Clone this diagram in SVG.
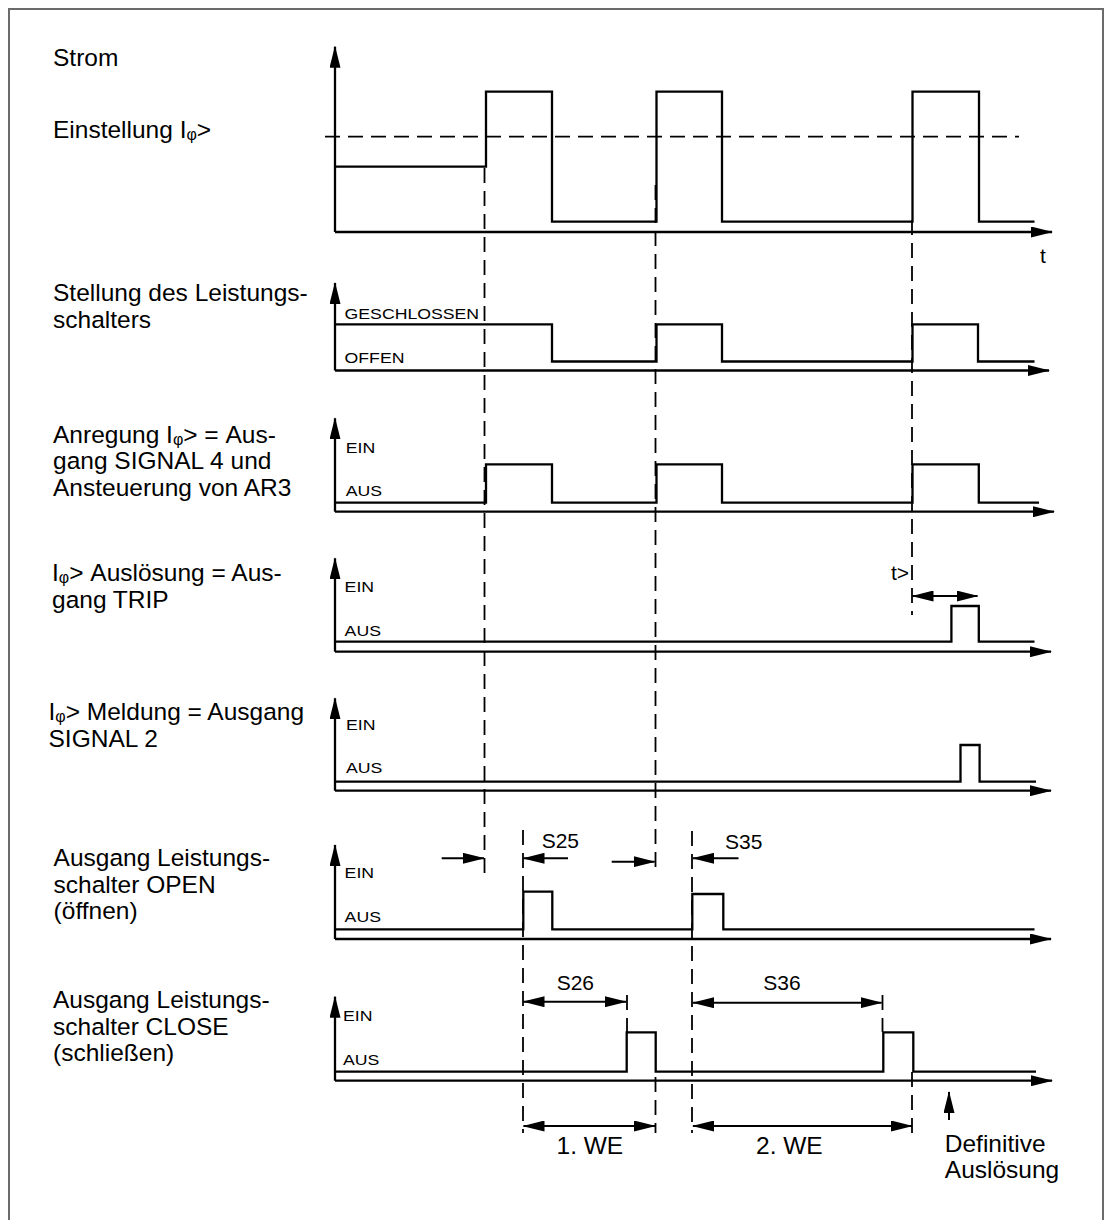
<svg xmlns="http://www.w3.org/2000/svg" width="1112" height="1220" viewBox="0 0 1112 1220">
<style>
.lbl{font-family:"Liberation Sans",Arial,sans-serif;font-size:24.5px;fill:#000}
.sm{font-family:"Liberation Sans",Arial,sans-serif;font-size:15.5px;fill:#000}
.md{font-family:"Liberation Sans",Arial,sans-serif;font-size:21px;fill:#000}
.ln{fill:none;stroke:#000;stroke-width:2.3}
.ax{fill:none;stroke:#000;stroke-width:2.3;marker-end:url(#ah)}
.dim{fill:none;stroke:#000;stroke-width:2;marker-end:url(#ah)}
.dim2{fill:none;stroke:#000;stroke-width:2;marker-end:url(#ah);marker-start:url(#ah)}
.dash{fill:none;stroke:#000;stroke-width:1.8;stroke-dasharray:15 8}
</style>
<defs>
<marker id="ah" viewBox="0 0 22 11" refX="21" refY="5.5" markerWidth="22" markerHeight="11" markerUnits="userSpaceOnUse" orient="auto-start-reverse"><path d="M0,0 L22,5.5 L0,11 Z" fill="#000"/></marker>
</defs>
<rect x="9" y="9" width="1094" height="1230" fill="none" stroke="#6b6b6b" stroke-width="2"/>

<g id="strom">
<text class="lbl" x="53" y="66">Strom</text>
<text class="lbl" x="53" y="137.7">Einstellung I<tspan font-size="16" dy="2">φ</tspan><tspan dy="-2">&gt;</tspan></text>
<line class="ax" x1="335" y1="232" x2="335" y2="46.7"/>
<line class="ax" x1="335" y1="232" x2="1052" y2="232"/>
<polyline class="ln" points="335,166.7 486,166.7 486,91.7 552,91.7 552,221.7 656.5,221.7 656.5,91.7 722,91.7 722,221.7 912.5,221.7 912.5,91.7 979,91.7 979,221.7 1034.5,221.7"/>
<text class="md" x="1040" y="263" font-size="20">t</text>
</g>

<g id="schalter">
<text class="lbl" x="53" y="300.7">Stellung des Leistungs-</text>
<text class="lbl" x="53" y="327.5">schalters</text>
<line class="ax" x1="335" y1="370.5" x2="335" y2="283"/>
<line class="ax" x1="335" y1="370.5" x2="1049" y2="370.5"/>
<polyline class="ln" points="335,324.3 552,324.3 552,361.5 656.5,361.5 656.5,324.3 722,324.3 722,361.5 912.5,361.5 912.5,324.3 978,324.3 978,361.5 1034.5,361.5"/>
<text class="sm" transform="translate(344.6 319.3) scale(1.14 1)">GESCHLOSSEN</text>
<text class="sm" transform="translate(344.6 362.7) scale(1.14 1)">OFFEN</text>
</g>

<g id="anregung">
<text class="lbl" x="53" y="442.7">Anregung I<tspan font-size="16" dy="2">φ</tspan><tspan dy="-2">&gt; = Aus-</tspan></text>
<text class="lbl" x="53" y="469.3">gang SIGNAL 4 und</text>
<text class="lbl" x="53" y="496">Ansteuerung von AR3</text>
<line class="ax" x1="335" y1="511.7" x2="335" y2="418.3"/>
<line class="ax" x1="335" y1="511.7" x2="1054" y2="511.7"/>
<polyline class="ln" points="335,502.7 486,502.7 486,464.3 552,464.3 552,502.7 656.5,502.7 656.5,464.3 722,464.3 722,502.7 912.5,502.7 912.5,464.3 978.8,464.3 978.8,502.7 1039,502.7"/>
<text class="sm" transform="translate(345.7 452.7) scale(1.14 1)">EIN</text>
<text class="sm" transform="translate(345.7 496) scale(1.14 1)">AUS</text>
</g>

<g id="trip">
<text class="lbl" x="52" y="581">I<tspan font-size="16" dy="2">φ</tspan><tspan dy="-2">&gt; Auslösung = Aus-</tspan></text>
<text class="lbl" x="52" y="607.5">gang TRIP</text>
<line class="ax" x1="335" y1="651.7" x2="335" y2="558.3"/>
<line class="ax" x1="335" y1="651.7" x2="1051" y2="651.7"/>
<polyline class="ln" points="335,641.7 951.4,641.7 951.4,606 978.8,606 978.8,641.7 1034.5,641.7"/>
<text class="sm" transform="translate(344.6 591.7) scale(1.14 1)">EIN</text>
<text class="sm" transform="translate(344.6 635.7) scale(1.14 1)">AUS</text>
<text class="md" x="891" y="580" font-size="19">t&gt;</text>
</g>

<g id="meldung">
<text class="lbl" x="48.5" y="720">I<tspan font-size="16" dy="2">φ</tspan><tspan dy="-2">&gt; Meldung = Ausgang</tspan></text>
<text class="lbl" x="48.5" y="746.7">SIGNAL 2</text>
<line class="ax" x1="335" y1="790.7" x2="335" y2="698.3"/>
<line class="ax" x1="335" y1="790.7" x2="1051" y2="790.7"/>
<polyline class="ln" points="335,781.7 960.5,781.7 960.5,745 979.6,745 979.6,781.7 1036,781.7"/>
<text class="sm" transform="translate(346 730) scale(1.14 1)">EIN</text>
<text class="sm" transform="translate(346 773.3) scale(1.14 1)">AUS</text>
</g>

<g id="open">
<text class="lbl" x="53.6" y="866">Ausgang Leistungs-</text>
<text class="lbl" x="53.6" y="892.5">schalter OPEN</text>
<text class="lbl" x="53.6" y="919">(öffnen)</text>
<line class="ax" x1="335" y1="939" x2="335" y2="845"/>
<line class="ax" x1="335" y1="939" x2="1051" y2="939"/>
<polyline class="ln" points="335,929.3 523.3,929.3 523.3,891.7 552.3,891.7 552.3,929.3 692.3,929.3 692.3,894 723.3,894 723.3,929.3 1034.5,929.3"/>
<text class="sm" transform="translate(344.6 878.3) scale(1.14 1)">EIN</text>
<text class="sm" transform="translate(344.6 921.7) scale(1.14 1)">AUS</text>
</g>

<g id="close">
<text class="lbl" x="53" y="1008">Ausgang Leistungs-</text>
<text class="lbl" x="53" y="1034.5">schalter CLOSE</text>
<text class="lbl" x="53" y="1061">(schließen)</text>
<line class="ax" x1="335" y1="1080.7" x2="335" y2="996.7"/>
<line class="ax" x1="335" y1="1080.7" x2="1052" y2="1080.7"/>
<polyline class="ln" points="335,1071.7 626.7,1071.7 626.7,1032.3 655.7,1032.3 655.7,1071.7 883.3,1071.7 883.3,1032.3 913.3,1032.3 913.3,1071.7 1036,1071.7"/>
<text class="sm" transform="translate(343 1021) scale(1.14 1)">EIN</text>
<text class="sm" transform="translate(343 1065) scale(1.14 1)">AUS</text>
</g>

<g id="annotations">
<text class="md" x="541.7" y="848.3">S25</text>
<text class="md" x="725" y="849">S35</text>
<text class="md" x="556.7" y="990">S26</text>
<text class="md" x="763.3" y="990">S36</text>
<text class="lbl" x="556.5" y="1154.3">1. WE</text>
<text class="lbl" x="756" y="1154.3">2. WE</text>
<text class="lbl" x="944.8" y="1151.7" font-size="24">Definitive</text>
<text class="lbl" x="944.8" y="1178" font-size="24">Auslösung</text>
</g>

<g id="connectors">
<line class="dash" x1="325" y1="136.7" x2="1019" y2="136.7"/>
<line class="dash" x1="484.5" y1="168" x2="484.5" y2="873"/>
<line class="dash" x1="655.5" y1="185" x2="655.5" y2="867"/>
<line class="dash" x1="912" y1="220" x2="912" y2="615"/>
<line class="dash" x1="523" y1="830" x2="523" y2="1133"/>
<line class="dash" x1="692" y1="831" x2="692" y2="1133"/>
<line class="dash" x1="655.5" y1="1077" x2="655.5" y2="1133"/>
<line class="dash" x1="627" y1="995" x2="627" y2="1032"/>
<line class="dash" x1="882.5" y1="995" x2="882.5" y2="1032"/>
<line class="dash" x1="912" y1="1072" x2="912" y2="1133"/>
<line class="dim" x1="441.7" y1="858.3" x2="484" y2="858.3"/>
<line class="dim" x1="568" y1="858.3" x2="523.5" y2="858.3"/>
<line class="dim" x1="611.7" y1="861.7" x2="654.5" y2="861.7"/>
<line class="dim" x1="738.5" y1="858.3" x2="693" y2="858.3"/>
<line class="dim2" x1="523.5" y1="1001.7" x2="626" y2="1001.7"/>
<line class="dim2" x1="693" y1="1002.7" x2="881.5" y2="1002.7"/>
<line class="dim2" x1="523.5" y1="1126" x2="655" y2="1126"/>
<line class="dim2" x1="693" y1="1126" x2="912" y2="1126"/>
<line class="dim2" x1="912.5" y1="596" x2="977.5" y2="596"/>
<line class="dim" x1="949" y1="1120" x2="949" y2="1092"/>
</g>
</svg>
